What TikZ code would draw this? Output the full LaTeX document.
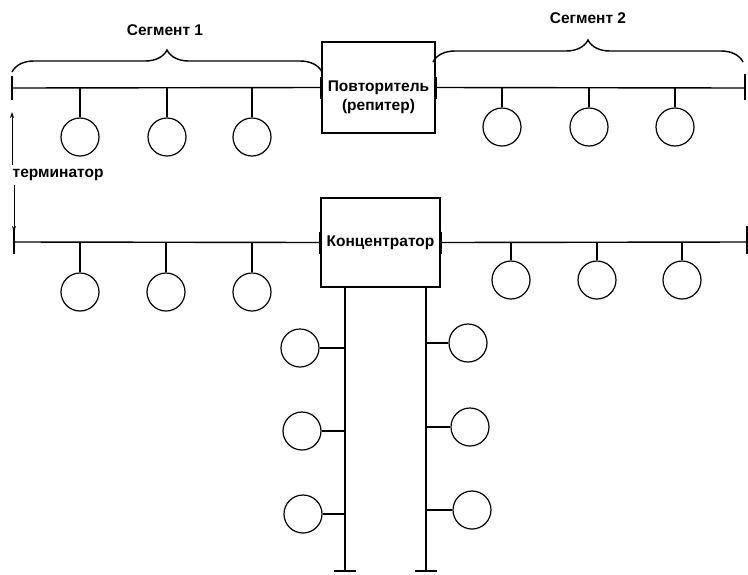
\documentclass[tikz,border=0pt]{standalone}
\usepackage{fontspec}
\setmainfont{Liberation Sans}
\usepackage{tikz}
\usetikzlibrary{arrows.meta,calc,decorations.pathreplacing}

\begin{document}
\begin{tikzpicture}[
  x=1pt, y=-1pt,
  line width=1.4pt,
  dev/.style={draw, line width=1.5pt, inner sep=0pt},
  station/.style={draw, circle, line width=1.2pt, minimum size=38pt, inner sep=0pt},
  lbl/.style={font=\fontsize{15.5}{19}\selectfont\bfseries, inner sep=0pt, align=center},
  term/.style={line width=2.8pt},
  seg/.style={decorate, decoration={brace, amplitude=22pt}},
  arr/.style={-{Stealth[length=6pt,width=4pt]}, line width=1pt}
]
\useasboundingbox (0,0) rectangle (748,574);

% upper bus with repeater
\coordinate (t1) at (12,88);
\coordinate (t2) at (745,88);
\node[dev, minimum width=113pt, minimum height=91pt] (rep) at (378.5,87.5) {};
\node[lbl] (reptxt) at (378.5,97) {Повторитель\\(репитер)};
\draw (t1) -- (rep.west);
\draw (rep.east) -- (t2);
\draw[term] (t1) ++(0,-12) -- ++(0,24);
\draw[term] (t2) ++(0,-14) -- ++(0,26);
\draw[term] (rep.west) ++(0,-11) -- ++(0,22);
\draw[term] (rep.east) ++(0,-11) -- ++(0,22);

\node[station] (a1) at (80,137) {};
\node[station] (a2) at (167,137) {};
\node[station] (a3) at (252,137) {};
\node[station] (b1) at (502,127) {};
\node[station] (b2) at (589,127) {};
\node[station] (b3) at (675,127) {};
\draw (a1) -- (a1 |- t1);
\draw (a2) -- (a2 |- t1);
\draw (a3) -- (a3 |- t1);
\draw (b1) -- (b1 |- t2);
\draw (b2) -- (b2 |- t2);
\draw (b3) -- (b3 |- t2);

% segments
\draw[seg] (12,72) -- (322,72);
\node[lbl] (seg1) at (165,30) {Сегмент 1};
\draw[seg] (433,62) -- (743,62);
\node[lbl] (seg2) at (588,18) {Сегмент 2};

% lower bus with concentrator
\coordinate (t3) at (14,242);
\coordinate (t4) at (747,242);
\node[dev, lbl, minimum width=119pt, minimum height=89pt] (conc) at (380.5,242.5) {Концентратор};
\draw (t3) -- (conc.west);
\draw (conc.east) -- (t4);
\draw[term] (t3) ++(0,-12) -- ++(0,24);
\draw[term] (t4) ++(0,-16) -- ++(0,28);
\draw[term] (conc.west) ++(0,-11) -- ++(0,22);
\draw[term] (conc.east) ++(0,-11) -- ++(0,22);

\node[station] (c1) at (80,292) {};
\node[station] (c2) at (166,292) {};
\node[station] (c3) at (252,292) {};
\node[station] (e1) at (511,280) {};
\node[station] (e2) at (597,280) {};
\node[station] (e3) at (682,280) {};
\draw (c1) -- (c1 |- t3);
\draw (c2) -- (c2 |- t3);
\draw (c3) -- (c3 |- t3);
\draw (e1) -- (e1 |- t4);
\draw (e2) -- (e2 |- t4);
\draw (e3) -- (e3 |- t4);

% terminator label
\node[lbl, anchor=west] (termtxt) at (12,175) {терминатор};
\draw[arr] ($(termtxt.north -| t1)+(0,-4)$) -- ($(t1)+(0,24)$);
\draw[arr] ($(termtxt.south -| t3)+(0,4)$) -- ($(t3)+(0,-10)$);

% vertical buses below the concentrator
\coordinate (v1) at (345,571);
\coordinate (v2) at (426,571);
\draw (v1 |- conc.south) -- (v1);
\draw (v2 |- conc.south) -- (v2);
\draw[term] (v1) ++(-11,0) -- ++(22,0);
\draw[term] (v2) ++(-11,0) -- ++(22,0);

\node[station] (d1) at (300,348) {};
\node[station] (d2) at (302,431) {};
\node[station] (d3) at (303,514) {};
\node[station] (f1) at (468,343) {};
\node[station] (f2) at (470,427) {};
\node[station] (f3) at (472,510) {};
\draw (d1) -- (d1 -| v1);
\draw (d2) -- (d2 -| v1);
\draw (d3) -- (d3 -| v1);
\draw (f1) -- (f1 -| v2);
\draw (f2) -- (f2 -| v2);
\draw (f3) -- (f3 -| v2);
\end{tikzpicture}
\end{document}
